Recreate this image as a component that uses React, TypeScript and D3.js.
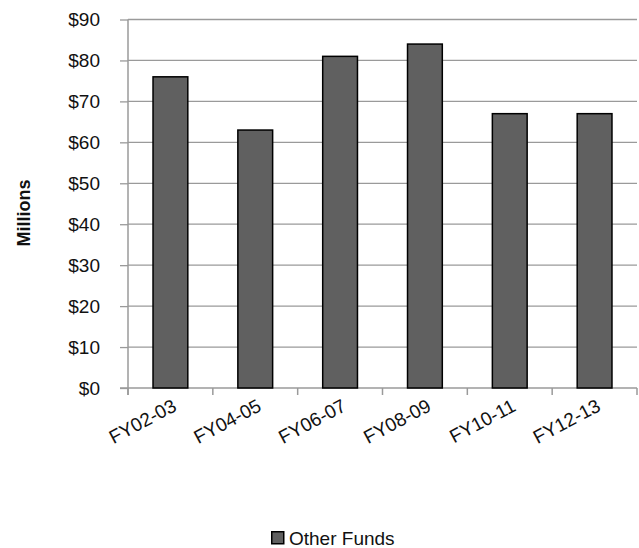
import { useRef, useEffect } from 'react';
import * as d3 from 'd3';

const categories = ['FY02-03', 'FY04-05', 'FY06-07', 'FY08-09', 'FY10-11', 'FY12-13'];
const otherFunds = [76, 63, 81, 84, 67, 67];
const yTicks = [0, 10, 20, 30, 40, 50, 60, 70, 80, 90];
const seriesName = 'Other Funds';
const axisTitle = 'Millions';

const width = 639;
const height = 548;
const marginLeft = 128;
const marginRight = 2;
const marginTop = 19.5;
const marginBottom = 160;

const font = '"Liberation Sans", Arial, sans-serif';
const gridColor = '#9a9a9a';

export default function App() {
  const gx = useRef<SVGGElement>(null);
  const gy = useRef<SVGGElement>(null);

  const x = d3.scaleBand<string>()
    .domain(categories)
    .range([marginLeft, width - marginRight])
    .paddingInner(0.59)
    .paddingOuter(0.295);
  const y = d3.scaleLinear([0, 90], [height - marginBottom, marginTop]);

  useEffect(() => {
    const g = d3.select(gy.current);
    g.selectAll('*').remove();
    g.call(d3.axisLeft(y).tickValues(yTicks).tickSize(8).tickPadding(20).tickFormat((d) => `$${d}`));
    g.select('.domain').remove();
    g.selectAll('.tick line').attr('stroke', gridColor).attr('stroke-width', 1.3);
    g.selectAll('.tick text')
      .attr('fill', '#111')
      .attr('font-family', font)
      .attr('font-size', 19);
  }, []);

  useEffect(() => {
    const g = d3.select(gx.current);
    g.selectAll('*').remove();
    // ticks sit on band boundaries, labels on band centres
    const step = x.step();
    const bounds = d3.range(categories.length + 1).map((i) => marginLeft + i * step);
    g.selectAll('line.tick')
      .data(bounds)
      .join('line')
      .attr('class', 'tick')
      .attr('x1', (d) => d)
      .attr('x2', (d) => d)
      .attr('y1', 0)
      .attr('y2', 7)
      .attr('stroke', gridColor)
      .attr('stroke-width', 1.5);
    g.selectAll('text')
      .data(categories)
      .join('text')
      .attr('transform', (d) => `translate(${(x(d) ?? 0) + x.bandwidth() / 2 + 1},${10}) rotate(-28)`)
      .attr('text-anchor', 'end')
      .attr('dy', '0.71em')
      .attr('fill', '#111')
      .attr('font-family', font)
      .attr('font-size', 19)
      .text((d) => d);
  }, []);

  const y0 = y(0);

  return (
    <svg width={width} height={height} style={{ position: 'absolute', left: 0, top: 0 }}>
      <rect width={width} height={height} fill="white" />
      <g>
        {yTicks.slice(1).map((t) => (
          <line key={t} x1={marginLeft} x2={width - marginRight} y1={y(t)} y2={y(t)} stroke={gridColor} strokeWidth={1.3} />
        ))}
      </g>
      <g ref={gy} transform={`translate(${marginLeft},0)`} />
      <line x1={marginLeft} x2={marginLeft} y1={marginTop} y2={y0 + 7} stroke={gridColor} strokeWidth={1.5} />
      <line x1={marginLeft - 8} x2={width - marginRight} y1={y0} y2={y0} stroke={gridColor} strokeWidth={1.5} />
      <g ref={gx} transform={`translate(0,${y0})`} />
      <g fill="#606060" stroke="#000" strokeWidth={1.5}>
        {otherFunds.map((v, i) => (
          <rect
            key={categories[i]}
            x={x(categories[i])}
            y={y(v)}
            width={x.bandwidth()}
            height={y0 - y(v)}
          />
        ))}
      </g>
      <text
        transform={`translate(30,213) rotate(-90)`}
        textAnchor="middle"
        fontFamily={font}
        fontWeight="bold"
        fontSize={18}
        fill="#111"
      >
        {axisTitle}
      </text>
      <g transform="translate(271,531)">
        <rect x={0.75} y={0.75} width={12} height={12} fill="#606060" stroke="#000" strokeWidth={1.5} />
        <text x={18} y={13.5} fontFamily={font} fontSize={19} fill="#111">{seriesName}</text>
      </g>
    </svg>
  );
}
